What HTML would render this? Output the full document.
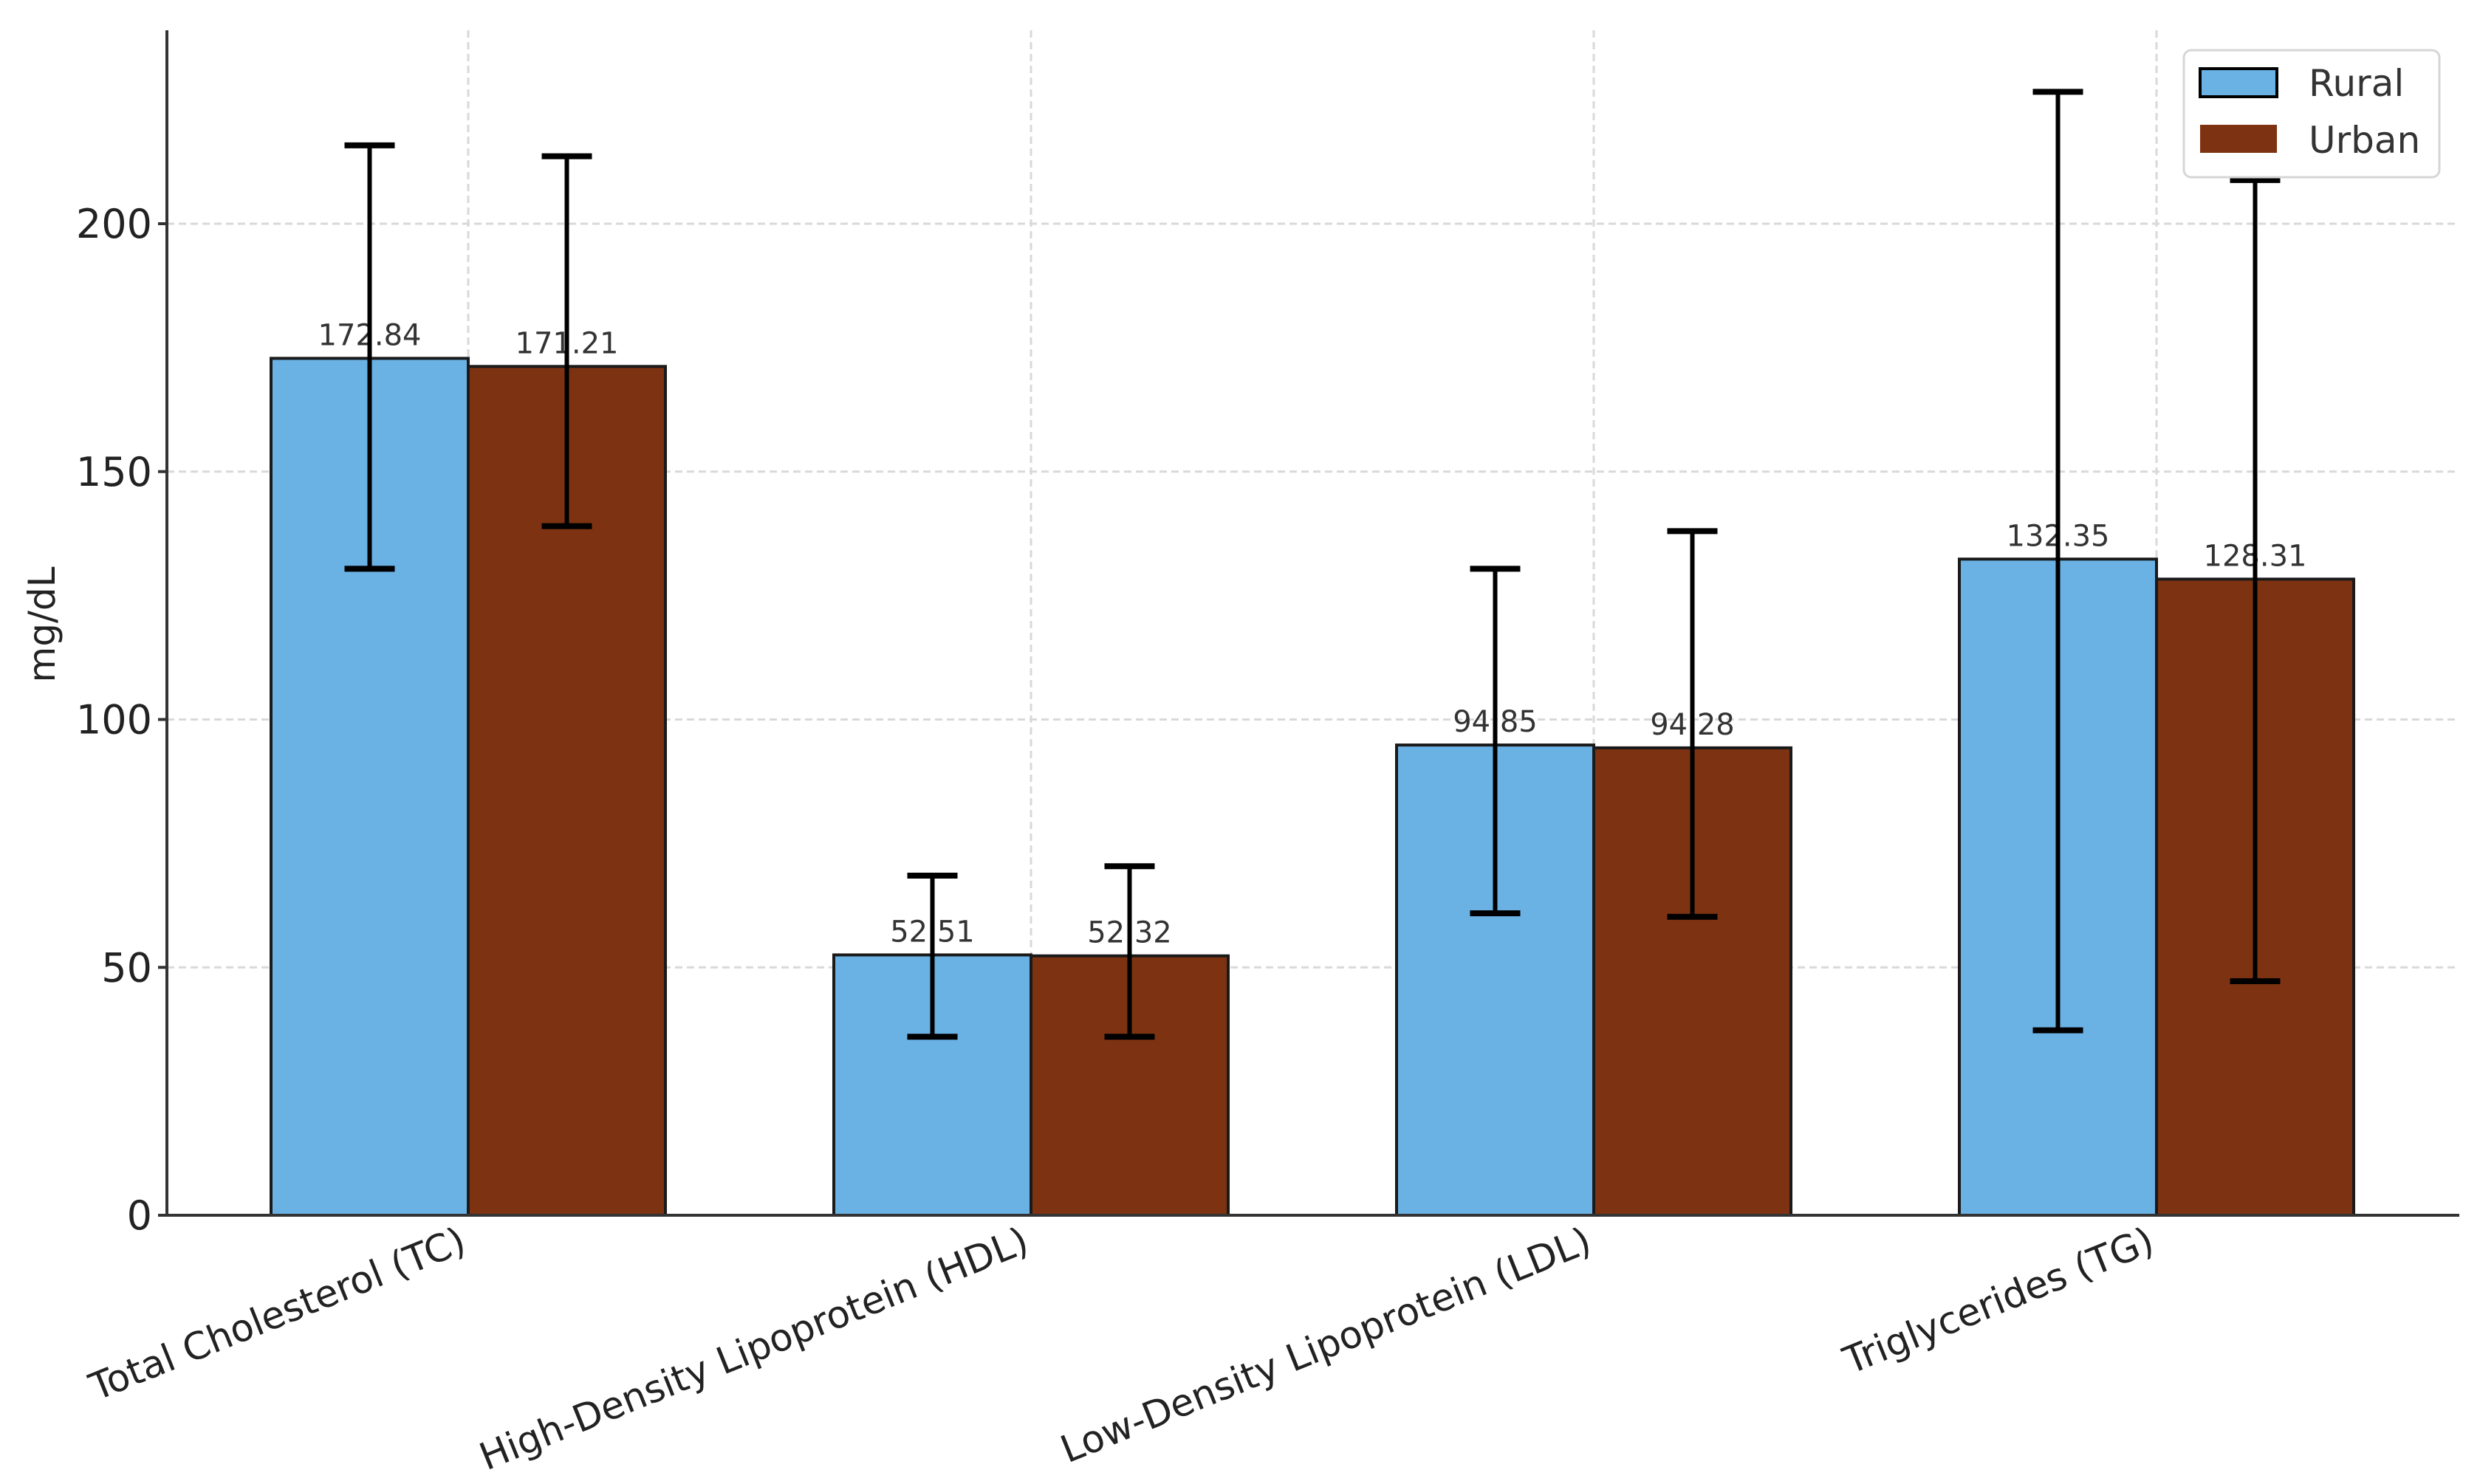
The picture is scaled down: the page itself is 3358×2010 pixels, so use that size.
<!DOCTYPE html>
<html><head><meta charset="utf-8">
<style>
html,body{margin:0;padding:0;background:#fff;}
svg{display:block;font-family:"DejaVu Sans","Liberation Sans",sans-serif;}
</style></head>
<body>
<svg id="chart" width="3358" height="2010" viewBox="0 0 3358 2010" xmlns="http://www.w3.org/2000/svg"></svg>
<script>
const categories = ["Total Cholesterol (TC)", "High-Density Lipoprotein (HDL)", "Low-Density Lipoprotein (LDL)", "Triglycerides (TG)"];
const ruralValues = [172.84, 52.51, 94.85, 132.35];
const urbanValues = [171.21, 52.32, 94.28, 128.31];
const ruralLow = [130.4, 36, 60.9, 37.3];
const ruralHigh = [215.8, 68.5, 130.4, 226.6];
const urbanLow = [139, 36, 60.2, 47.2];
const urbanHigh = [213.6, 70.4, 138, 208.8];
const yTicks = [0, 50, 100, 150, 200];

const NS = "http://www.w3.org/2000/svg";
const svg = document.getElementById("chart");
const axL = 226, axR = 3330, axT = 41, y0 = 1646, pxPerUnit = 6.715;
const groupStep = 762, firstCenter = 634, barW = 267;
function yScale(v){ return y0 - v * pxPerUnit; }
function xCenter(i){ return firstCenter + i * groupStep; }
function mk(tag, attrs, parent){
  const e = document.createElementNS(NS, tag);
  for (const k in attrs) e.setAttribute(k, attrs[k]);
  (parent || svg).appendChild(e);
  return e;
}

const grid = mk("g", {});


yTicks.forEach(t => {
  if (t === 0) return;
  const l = mk("line", {x1: axL, x2: axR, y1: yScale(t), y2: yScale(t), stroke: "#d9d9d9", "stroke-width": 3, "stroke-dasharray": "10,6"}, grid);
  
  
});
categories.forEach((c, i) => {
  const l = mk("line", {x1: xCenter(i), x2: xCenter(i), y1: axT, y2: y0, stroke: "#d9d9d9", "stroke-width": 3, "stroke-dasharray": "10,6"}, grid);
  
  
});

function drawBar(i, v, isRural){
  const x = isRural ? xCenter(i) - barW : xCenter(i);
  const r = mk("rect", {x: x, y: yScale(v), width: barW, height: y0 - yScale(v),
    fill: isRural ? "#6ab1e4" : "#7d3311", stroke: "#1a1a1a", "stroke-width": 4});
  
  
}
function drawErr(i, lo, hi, isRural){
  const cx = isRural ? xCenter(i) - barW / 2 : xCenter(i) + barW / 2;
  const g = mk("g", {stroke: "#000"});
  
  
  mk("line", {x1: cx, x2: cx, y1: yScale(hi), y2: yScale(lo), "stroke-width": 6}, g);
  mk("line", {x1: cx - 34, x2: cx + 34, y1: yScale(hi), y2: yScale(hi), "stroke-width": 8}, g);
  mk("line", {x1: cx - 34, x2: cx + 34, y1: yScale(lo), y2: yScale(lo), "stroke-width": 8}, g);
}
function drawValue(i, v, isRural){
  const cx = isRural ? xCenter(i) - barW / 2 : xCenter(i) + barW / 2;
  const t = mk("text", {x: cx, y: yScale(v) - 18, "text-anchor": "middle", "font-size": 40, fill: "#333"});
  t.textContent = v.toFixed(2);
  
  
}
categories.forEach((c, i) => {
  drawBar(i, ruralValues[i], true);
  drawBar(i, urbanValues[i], false);
});
categories.forEach((c, i) => {
  drawValue(i, ruralValues[i], true);
  drawValue(i, urbanValues[i], false);
  drawErr(i, ruralLow[i], ruralHigh[i], true);
  drawErr(i, urbanLow[i], urbanHigh[i], false);
});

const yAxis = mk("line", {x1: axL, x2: axL, y1: axT, y2: y0 + 2, stroke: "#333", "stroke-width": 4});


const xAxis = mk("line", {x1: axL - 2, x2: axR, y1: y0, y2: y0, stroke: "#333", "stroke-width": 4});



yTicks.forEach(t => {
  const tk = mk("line", {x1: axL - 12, x2: axL, y1: yScale(t), y2: yScale(t), stroke: "#333", "stroke-width": 4});
  
  
  const lb = mk("text", {x: axL - 20, y: yScale(t) + 19, "text-anchor": "end", "font-size": 54, fill: "#222"});
  lb.textContent = t;
  
  
});

categories.forEach((c, i) => {
  const x = xCenter(i), y = y0 + 48;
  const lb = mk("text", {x: x, y: y, "text-anchor": "end", "font-size": 51, fill: "#222",
    transform: "rotate(-22 " + x + " " + y + ")"});
  lb.textContent = c;
  
  
});

const yl = mk("text", {x: 74, y: 846, "text-anchor": "middle", "font-size": 50, fill: "#222", transform: "rotate(-90 74 846)"});
yl.textContent = "mg/dL";



const lg = mk("g", {});


mk("rect", {x: 2957, y: 68, width: 346, height: 172, rx: 10, fill: "#fff", "fill-opacity": 0.9, stroke: "#d6d6d6", "stroke-width": 3}, lg);
const e1 = mk("g", {}, lg);


mk("rect", {x: 2979, y: 93, width: 104, height: 38, fill: "#6ab1e4", stroke: "#000", "stroke-width": 4}, e1);
const t1 = mk("text", {x: 3126, y: 130, "font-size": 50, fill: "#333"}, e1);
t1.textContent = "Rural";
const e2 = mk("g", {}, lg);


mk("rect", {x: 2979, y: 169, width: 104, height: 38, fill: "#7d3311"}, e2);
const t2 = mk("text", {x: 3126, y: 207, "font-size": 50, fill: "#333"}, e2);
t2.textContent = "Urban";
</script>
</body></html>
